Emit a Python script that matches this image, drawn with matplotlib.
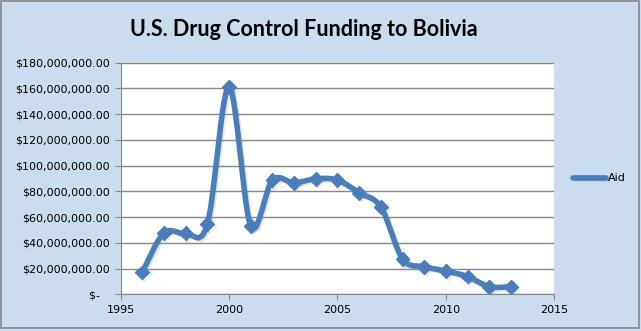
import numpy as np
import matplotlib.pyplot as plt
import matplotlib.patheffects as pe
from matplotlib.ticker import FuncFormatter

# funding per fiscal year (USD)
years = [1996, 1997, 1998, 1999, 2000, 2001, 2002, 2003, 2004,
         2005, 2006, 2007, 2008, 2009, 2010, 2011, 2012, 2013]
aid = [17.0e6, 47.5e6, 47.3e6, 54.3e6, 161.0e6, 53.2e6, 88.7e6, 86.6e6, 89.7e6,
       88.7e6, 78.8e6, 67.7e6, 27.4e6, 21.4e6, 18.1e6, 13.7e6, 5.9e6, 5.9e6]

blue = "#4A7EBB"
bg = "#CCDCEF"


def smooth(xs, ys, n=30):
    # Catmull-Rom curve through the points, like a spreadsheet "smoothed line"
    p = np.column_stack([xs, ys]).astype(float)
    p = np.vstack([p[0], p, p[-1]])
    out = []
    for i in range(1, len(p) - 2):
        p0, p1, p2, p3 = p[i - 1], p[i], p[i + 1], p[i + 2]
        t = np.linspace(0, 1, n, endpoint=False)[:, None]
        c = 0.5 * ((2 * p1) + (-p0 + p2) * t + (2 * p0 - 5 * p1 + 4 * p2 - p3) * t**2
                   + (-p0 + 3 * p1 - 3 * p2 + p3) * t**3)
        out.append(c)
    out.append(p[-2][None, :])
    out = np.vstack(out)
    return out[:, 0], out[:, 1]


fig = plt.figure(figsize=(6.41, 3.31), dpi=100, facecolor=bg)
ax = fig.add_axes([0.188, 0.111, 0.677, 0.700])
ax.set_facecolor("white")

sx, sy = smooth(years, aid)
shadow = [pe.SimpleLineShadow(offset=(1.2, -1.2), shadow_color="#9a9a9a", alpha=0.25), pe.Normal()]
ax.plot(sx, sy, color=blue, lw=4.0, solid_capstyle="round", path_effects=shadow, zorder=3)
ax.plot(years, aid, ls="none", marker="D", ms=7, color=blue, mec=blue, zorder=4,
        path_effects=shadow)

ax.set_xlim(1995, 2015)
ax.set_ylim(0, 180e6)
ax.set_xticks([1995, 2000, 2005, 2010, 2015])
ax.set_yticks(np.arange(0, 180e6 + 1, 20e6))


def money(v, pos):
    if v == 0:
        return "$-   "
    return "${:,.2f}".format(v)


ax.yaxis.set_major_formatter(FuncFormatter(money))
ax.grid(axis="y", color="#868686", lw=1)
ax.set_axisbelow(True)
for s in ["top", "right"]:
    ax.spines[s].set_visible(False)
for s in ["left", "bottom"]:
    ax.spines[s].set_color("#868686")
ax.tick_params(axis="both", colors="#868686", labelcolor="black", labelsize=8, length=4)
ax.tick_params(axis="x", pad=4)

fig.text(0.4735, 0.912, "U.S. Drug Control Funding to Bolivia", ha="center", va="center",
         fontsize=15.5, fontweight="bold", family="Lato")

ax.legend(["Aid"], loc="center left", bbox_to_anchor=(1.02, 0.5), frameon=False,
          fontsize=8, handlelength=3, handletextpad=0.1)
leg = ax.get_legend()
leg.legend_handles[0].set_linewidth(4)

# outer border of the chart area
fig.patches.append(plt.Rectangle((0.002, 0.008), 0.995, 0.988, transform=fig.transFigure,
                                 fill=False, ec="#868686", lw=1.2))

fig.savefig("out.png", dpi=100, facecolor=bg)
